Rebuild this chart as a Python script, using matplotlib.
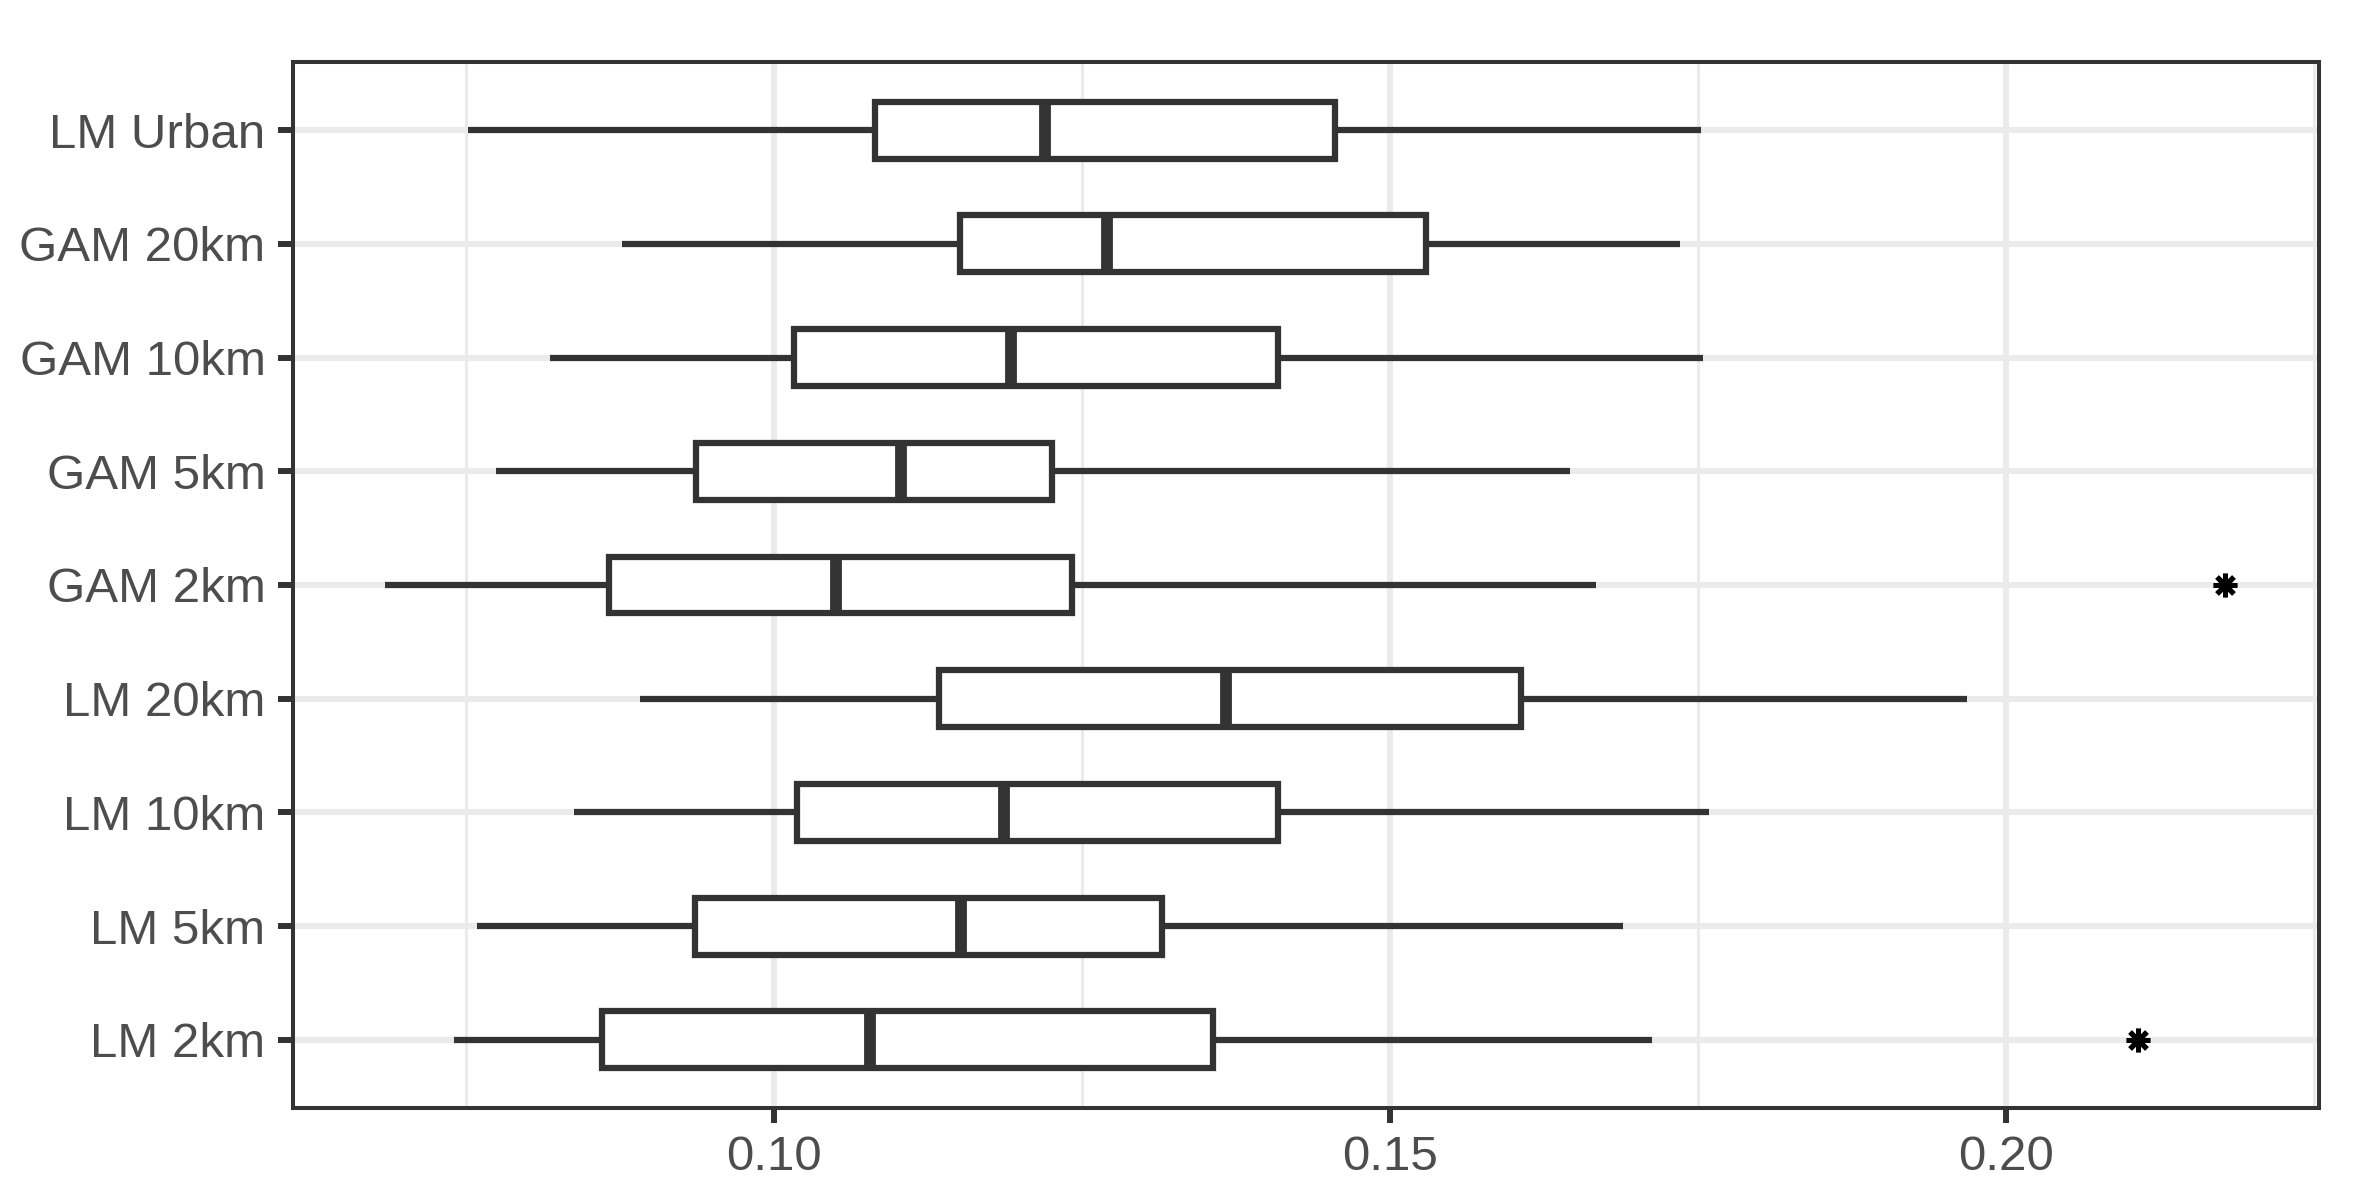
import matplotlib
matplotlib.use('Agg')
import matplotlib.pyplot as plt
from matplotlib.ticker import MultipleLocator, FixedLocator

categories = ["LM 2km", "LM 5km", "LM 10km", "LM 20km", "GAM 2km",
              "GAM 5km", "GAM 10km", "GAM 20km", "LM Urban"]
whislo = [0.0740, 0.0759, 0.0838, 0.0891, 0.0684, 0.0774, 0.0818, 0.0877, 0.0752]
q1     = [0.0860, 0.0936, 0.1019, 0.1134, 0.0866, 0.0937, 0.1016, 0.1151, 0.1082]
med    = [0.1078, 0.1152, 0.1187, 0.1367, 0.1050, 0.1103, 0.1192, 0.1270, 0.1220]
q3     = [0.1356, 0.1315, 0.1409, 0.1606, 0.1242, 0.1226, 0.1409, 0.1529, 0.1455]
whishi = [0.1713, 0.1689, 0.1759, 0.1968, 0.1667, 0.1646, 0.1754, 0.1735, 0.1752]
outliers = [[0.2107], [], [], [], [0.2178], [], [], [], []]
xticks = [0.10, 0.15, 0.20]
xticklabels = ["0.10", "0.15", "0.20"]

plt.rcParams['font.family'] = ['Liberation Sans', 'DejaVu Sans']

fig = plt.figure(figsize=(23.55, 11.90), dpi=100)
ax = fig.add_axes([293/2355, 1 - 1108/1190, (2319 - 293)/2355, (1108 - 62)/1190])

dark = '#333333'
stats = []
for i, c in enumerate(categories):
    stats.append(dict(label=c, whislo=whislo[i], q1=q1[i], med=med[i],
                      q3=q3[i], whishi=whishi[i], fliers=outliers[i]))

positions = list(range(1, len(categories) + 1))
ax.bxp(stats, positions=positions, widths=0.5, orientation='horizontal',
       patch_artist=True, showcaps=False, showfliers=True,
       boxprops=dict(facecolor='white', edgecolor=dark, linewidth=4.5),
       whiskerprops=dict(color=dark, linewidth=4.5, solid_capstyle='butt'),
       medianprops=dict(color=dark, linewidth=8.5, solid_capstyle='butt'),
       flierprops=dict(marker=(8, 2, 0), markersize=17, markeredgewidth=3.6,
                       markeredgecolor='black', markerfacecolor='black',
                       linestyle='none'),
       zorder=3)

ax.set_xlim(0.06096, 0.2254)
ax.set_ylim(0.4, len(categories) + 0.6)
ax.set_yticks(positions)
ax.set_yticklabels(categories)
ax.xaxis.set_major_locator(FixedLocator(xticks))
ax.set_xticklabels(xticklabels)
ax.xaxis.set_minor_locator(MultipleLocator(0.025))

ax.set_axisbelow(True)
ax.grid(True, which='major', color='#EBEBEB', linewidth=4.3)
ax.grid(True, which='minor', axis='x', color='#EBEBEB', linewidth=2.2)
ax.tick_params(axis='both', which='major', length=10.8, width=4.3, color=dark,
               labelsize=35.5, labelcolor='#4D4D4D', pad=9)
ax.tick_params(axis='x', which='minor', length=0)
for s in ax.spines.values():
    s.set_color(dark)
    s.set_linewidth(2.9)
    s.set_zorder(5)

fig.savefig('out.png', dpi=100, facecolor='white')
